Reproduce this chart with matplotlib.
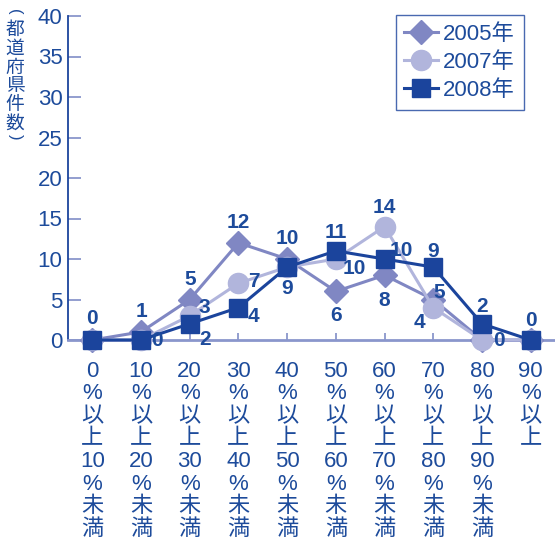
import numpy as np
import matplotlib
matplotlib.use('Agg')
import matplotlib.pyplot as plt

# data
categories = ['0\n%\n以\n上\n10\n%\n未\n満', '10\n%\n以\n上\n20\n%\n未\n満',
              '20\n%\n以\n上\n30\n%\n未\n満', '30\n%\n以\n上\n40\n%\n未\n満',
              '40\n%\n以\n上\n50\n%\n未\n満', '50\n%\n以\n上\n60\n%\n未\n満',
              '60\n%\n以\n上\n70\n%\n未\n満', '70\n%\n以\n上\n80\n%\n未\n満',
              '80\n%\n以\n上\n90\n%\n未\n満', '90\n%\n以\n上']
v2005 = [0, 1, 5, 12, 10, 6, 8, 5, 0, 0]
v2007 = [0, 0, 3, 7, 9, 10, 14, 4, 0, 0]
v2008 = [0, 0, 2, 4, 9, 11, 10, 9, 2, 0]
series_names = ['2005年', '2007年', '2008年']
y_ticks = [0, 5, 10, 15, 20, 25, 30, 35, 40]
y_label = '都\n道\n府\n県\n件\n数'

# which value labels are shown, with offsets (px) from the marker
labels_2005 = {1: (0, 20), 2: (0, 20), 3: (0, 20), 4: (0, 20), 5: (0, -24),
               6: (0, -25), 7: (6, 7)}
labels_2007 = {2: (15, 8), 3: (15, 2), 5: (18, -10), 6: (0, 19), 7: (-14, -15),
               8: (17, -1)}
labels_2008 = {0: (0, 22), 1: (16, -1), 2: (15, -16), 3: (15, -9), 4: (0, -21),
               5: (0, 18), 6: (17, 8), 7: (0, 16), 8: (0, 17), 9: (0, 20)}

C_TEXT = '#1d4b9b'
C_2005 = '#8087c3'
C_2007 = '#b1b5dc'
C_2008 = '#1b449c'
C_AXIS_LIGHT = '#8a96cc'

plt.rcParams['font.family'] = ['Liberation Sans', 'Noto Sans CJK JP']

fig = plt.figure(figsize=(5.55, 5.42), dpi=100)
ax = fig.add_axes([68/555, 1-340/542, 1-68/555, (340-16)/542])

x = np.arange(len(categories))
ax.plot(x, v2005, color=C_2005, lw=2.2, marker='D', ms=12.5, mec=C_2005,
        label=series_names[0], clip_on=False, zorder=3)
ax.plot(x, v2007, color=C_2007, lw=2.2, marker='o', ms=14.5, mec=C_2007,
        label=series_names[1], clip_on=False, zorder=4)
ax.plot(x, v2008, color=C_2008, lw=2.2, marker='s', ms=12.5, mec=C_2008,
        label=series_names[2], clip_on=False, zorder=5)

for vals, lab in [(v2005, labels_2005), (v2007, labels_2007), (v2008, labels_2008)]:
  for i, (dx, dy) in lab.items():
    ax.annotate(str(vals[i]), (x[i], vals[i]), xytext=(dx*0.72, dy*0.72),
                textcoords='offset points', ha='center', va='center',
                fontsize=15, fontweight='bold', color=C_TEXT, zorder=6,
                annotation_clip=False)

ax.set_xlim(-0.5, 9.5)
ax.set_ylim(0, 40)
ax.set_yticks(y_ticks)
ax.set_xticks(x)
ax.set_xticklabels(categories, linespacing=1.1)

for s in ['top', 'right']:
  ax.spines[s].set_visible(False)
ax.spines['left'].set_color(C_2008)
ax.spines['left'].set_linewidth(1.3)
ax.spines['bottom'].set_color(C_AXIS_LIGHT)
ax.spines['bottom'].set_linewidth(2)

ax.tick_params(axis='y', direction='in', length=9, width=1.3, color=C_AXIS_LIGHT,
               labelsize=16, labelcolor=C_TEXT, pad=4)
ax.tick_params(axis='x', direction='in', length=5, width=1.3, color=C_AXIS_LIGHT,
               labelsize=16, labelcolor=C_TEXT, pad=15)

leg = ax.legend(loc='upper right', bbox_to_anchor=(524/555, 1-15/542),
                bbox_transform=fig.transFigure, frameon=True, fancybox=False,
                fontsize=16, handlelength=1.5, handletextpad=0.25,
                borderpad=0.4, labelspacing=0.32, borderaxespad=0)
leg.get_frame().set_edgecolor(C_2008)
leg.get_frame().set_linewidth(1)
for t in leg.get_texts():
  t.set_color(C_TEXT)

# vertical y label with rotated brackets
fig.text(15/555, 1-12/542, '(', rotation=-90, ha='center', va='center',
         fontsize=12, color=C_TEXT, family=['Liberation Sans'])
fig.text(15/555, 1-19/542, y_label, ha='center', va='top', fontsize=13.5,
         color=C_TEXT, linespacing=0.86, family=['Noto Sans CJK JP'])
fig.text(15/555, 1-137/542, ')', rotation=-90, ha='center', va='center',
         fontsize=12, color=C_TEXT, family=['Liberation Sans'])

fig.savefig('out.png', dpi=100)
